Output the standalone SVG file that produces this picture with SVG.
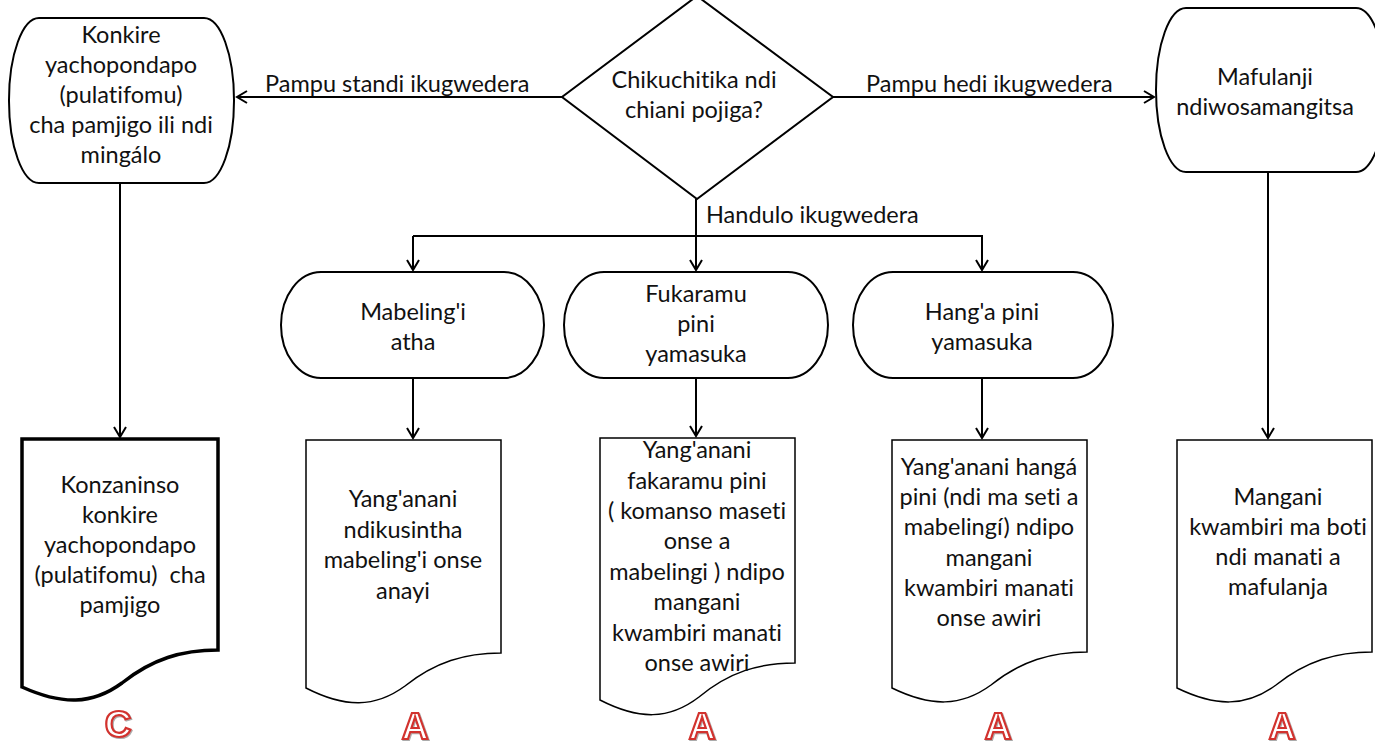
<svg xmlns="http://www.w3.org/2000/svg" width="1375" height="745" viewBox="0 0 1375 745">
<style>
.shape{fill:#fff;stroke:#000;stroke-width:2}
.doc{fill:#fff;stroke:#000;stroke-width:1.5}
.docb{fill:#fff;stroke:#000;stroke-width:3.5}
.t{font-family:Lato,"Liberation Sans",sans-serif;font-size:23.5px;fill:#111;text-anchor:middle;font-variant-ligatures:none}
.lbl{font-family:Lato,"Liberation Sans",sans-serif;font-size:23.5px;fill:#111;font-variant-ligatures:none}
.conn{fill:none;stroke:#000;stroke-width:2}
.mark{font-family:"Liberation Sans",sans-serif;font-weight:bold;font-size:37px;fill:#fff;stroke:#d2322d;stroke-width:2.2;text-anchor:middle;filter:url(#sh)}
</style>
<defs>
<marker id="arr" markerUnits="userSpaceOnUse" markerWidth="16" markerHeight="16" viewBox="-12 -8 14 16" refX="0" refY="0" orient="auto">
<path d="M-10,-6 L0,0 L-10,6" fill="none" stroke="#000" stroke-width="2"/>
</marker>
<filter id="sh" x="-20%" y="-20%" width="150%" height="140%">
<feDropShadow dx="1" dy="1" stdDeviation="0.7" flood-color="#888" flood-opacity="0.7"/>
</filter>
</defs>
<rect width="1375" height="745" fill="#fff"/>

<g id="connectors">
<line class="conn" x1="562" y1="97" x2="237" y2="97" marker-end="url(#arr)"/>
<line class="conn" x1="833" y1="97" x2="1154" y2="97" marker-end="url(#arr)"/>
<line class="conn" x1="696" y1="199" x2="696" y2="270" marker-end="url(#arr)"/>
<polyline class="conn" points="413,236 982,236 982,270" marker-end="url(#arr)"/>
<line class="conn" x1="413" y1="236" x2="413" y2="270" marker-end="url(#arr)"/>
<line class="conn" x1="413" y1="378" x2="413" y2="438" marker-end="url(#arr)"/>
<line class="conn" x1="696" y1="378" x2="696" y2="436" marker-end="url(#arr)"/>
<line class="conn" x1="982" y1="378" x2="982" y2="438" marker-end="url(#arr)"/>
<line class="conn" x1="120" y1="183" x2="120" y2="437" marker-end="url(#arr)"/>
<line class="conn" x1="1268" y1="172" x2="1268" y2="438" marker-end="url(#arr)"/>
<text class="lbl" x="265" y="92">Pampu standi ikugwedera</text>
<text class="lbl" x="866" y="92">Pampu hedi ikugwedera</text>
<text class="lbl" x="706" y="223">Handulo ikugwedera</text>
</g>

<g id="decision">
<polygon class="shape" points="697,-4 833,97 697,199 562,97"/>
<text class="t" x="694" y="88">Chikuchitika ndi</text>
<text class="t" x="694" y="118">chiani pojiga?</text>
</g>

<g id="platform">
<rect class="shape" x="9" y="18" width="225" height="165" rx="30" ry="82"/>
<text class="t" x="121" y="43">Konkire</text>
<text class="t" x="121" y="73">yachopondapo</text>
<text class="t" x="121" y="103">(pulatifomu)</text>
<text class="t" x="121" y="133">cha pamjigo ili ndi</text>
<text class="t" x="121" y="163">mingálo</text>
</g>

<g id="flanges">
<rect class="shape" x="1156" y="8" width="230" height="164" rx="30" ry="82"/>
<text class="t" x="1265" y="85">Mafulanji</text>
<text class="t" x="1265" y="115">ndiwosamangitsa</text>
</g>

<g id="bearings">
<rect class="shape" x="281" y="272" width="263" height="106" rx="40" ry="53"/>
<text class="t" x="413" y="320">Mabeling'i</text>
<text class="t" x="413" y="350">atha</text>
</g>

<g id="crankpin">
<rect class="shape" x="564" y="272" width="264" height="106" rx="40" ry="53"/>
<text class="t" x="696" y="302">Fukaramu</text>
<text class="t" x="696" y="332">pini</text>
<text class="t" x="696" y="362">yamasuka</text>
</g>

<g id="hangerpin">
<rect class="shape" x="853" y="272" width="260" height="106" rx="40" ry="53"/>
<text class="t" x="982" y="320">Hang'a pini</text>
<text class="t" x="982" y="350">yamasuka</text>
</g>

<g id="doc-c">
<path class="docb" d="M22,439 H218 V650 C182,650 152,659 122,683 C92,705 62,705 22,687 Z"/>
<text class="t" x="120" y="493">Konzaninso</text>
<text class="t" x="120" y="523">konkire</text>
<text class="t" x="120" y="553">yachopondapo</text>
<text class="t" x="120" y="583" xml:space="preserve">(pulatifomu)  cha</text>
<text class="t" x="120" y="613">pamjigo</text>
<text class="mark" x="118" y="737">C</text>
</g>

<g id="doc-a1">
<path class="doc" d="M306,440 H501 V653 C465,653 435,662 405,686 C375,708 345,708 306,688 Z"/>
<text class="t" x="403" y="507">Yang'anani</text>
<text class="t" x="403" y="538">ndikusintha</text>
<text class="t" x="403" y="568">mabeling'i onse</text>
<text class="t" x="403" y="599">anayi</text>
<text class="mark" x="415" y="739">A</text>
</g>

<g id="doc-a2">
<path class="doc" d="M600,438 H795 V663 C759,663 729,672 699,697 C669,720 639,720 600,700 Z"/>
<text class="t" x="697" y="458">Yang'anani</text>
<text class="t" x="697" y="489">fakaramu pini</text>
<text class="t" x="697" y="519">( komanso maseti</text>
<text class="t" x="697" y="549">onse a</text>
<text class="t" x="697" y="580">mabelingi ) ndipo</text>
<text class="t" x="697" y="610">mangani</text>
<text class="t" x="697" y="641">kwambiri manati</text>
<text class="t" x="697" y="671">onse awiri</text>
<text class="mark" x="702" y="739">A</text>
</g>

<g id="doc-a3">
<path class="doc" d="M892,440 H1087 V652 C1051,652 1021,661 991,685 C961,707 931,707 892,688 Z"/>
<text class="t" x="989" y="475">Yang'anani hangá</text>
<text class="t" x="989" y="505">pini (ndi ma seti a</text>
<text class="t" x="989" y="535">mabelingí) ndipo</text>
<text class="t" x="989" y="566">mangani</text>
<text class="t" x="989" y="596">kwambiri manati</text>
<text class="t" x="989" y="626">onse awiri</text>
<text class="mark" x="998" y="739">A</text>
</g>

<g id="doc-a4">
<path class="doc" d="M1177,440 H1372 V652 C1336,652 1306,661 1276,685 C1246,707 1216,707 1177,688 Z"/>
<text class="t" x="1278" y="505">Mangani</text>
<text class="t" x="1278" y="535">kwambiri ma boti</text>
<text class="t" x="1278" y="565">ndi manati a</text>
<text class="t" x="1278" y="595">mafulanja</text>
<text class="mark" x="1282" y="739">A</text>
</g>
</svg>
